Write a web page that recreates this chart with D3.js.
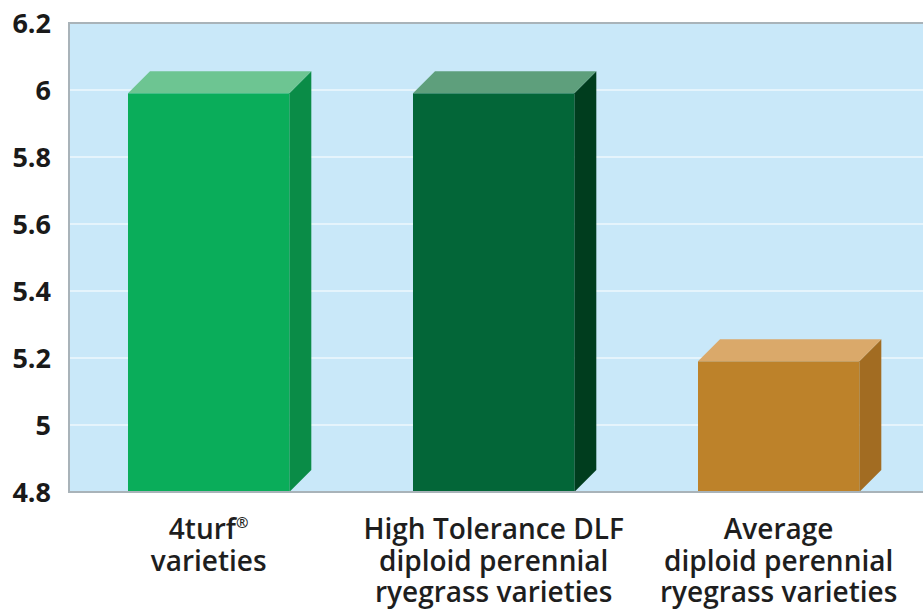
<!DOCTYPE html>
<html>
<head>
<meta charset="utf-8">
<script src="https://cdn.jsdelivr.net/npm/d3@7"></script>
<style>
  html, body { margin: 0; padding: 0; background: #ffffff; }
  svg { display: block; }
</style>
</head>
<body>
<svg id="chart" width="923" height="614"></svg>
<script>
// ---- data ----
const categories = ["4turf", "High Tolerance DLF", "Average"];
const categoryLines = [
  ["4turf®", "varieties"],
  ["High Tolerance DLF", "diploid perennial", "ryegrass varieties"],
  ["Average", "diploid perennial", "ryegrass varieties"]
];
const values = [5.99, 5.99, 5.19];
const yTicks = [4.8, 5, 5.2, 5.4, 5.6, 5.8, 6, 6.2];
const frontColors = ["#0aad5a", "#036638", "#bd822a"];
const topColors = ["#6dc592", "#5e9f7c", "#daa96a"];
const sideColors = ["#0a8c47", "#003d1e", "#a26c22"];

// ---- layout ----
const W = 923, H = 614;
const plot = { left: 69, right: 924, top: 23, bottom: 492 };
const depth = 22;

const svg = d3.select("#chart");

const x = d3.scaleBand().domain(categories).range([plot.left, plot.right]).padding(0);
const y = d3.scaleLinear().domain([4.8, 6.2]).range([plot.bottom, plot.top]);

// background
svg.append("rect")
  .attr("x", plot.left).attr("y", plot.top)
  .attr("width", plot.right - plot.left).attr("height", plot.bottom - plot.top)
  .attr("fill", "#c9e8f9");

// gridlines
svg.append("g").selectAll("line")
  .data(yTicks.filter(t => t > 4.8 && t < 6.2))
  .join("line")
  .attr("x1", plot.left).attr("x2", plot.right)
  .attr("y1", d => y(d)).attr("y2", d => y(d))
  .attr("stroke", "#eef8fd").attr("stroke-width", 1.5);

// y-axis labels
const yAxis = d3.axisLeft(y).tickValues(yTicks).tickSize(0).tickPadding(18)
  .tickFormat(d => d3.format("~g")(d));
const gy = svg.append("g").attr("transform", `translate(${plot.left},0)`).call(yAxis);
gy.select(".domain").remove();
gy.selectAll("text")
  .attr("font-family", "'Open Sans', sans-serif")
  .attr("font-weight", 700)
  .attr("font-size", 27)
  .attr("fill", "#1a1a1a")
  .attr("dy", "0.36em");

// bars
const bw = x.bandwidth();
const frontOff = 0.207 * bw, frontW = 0.566 * bw;
const bars = svg.append("g");
categories.forEach((c, i) => {
  const x0 = x(c) + frontOff, x1 = x0 + frontW;
  const yt = y(values[i]), yb = y(4.8);
  // side face, clipped at the baseline
  bars.append("path")
    .attr("d", `M${x1},${yt} L${x1 + depth},${yt - depth} L${x1 + depth},${yb - depth} L${x1},${yb} Z`)
    .attr("fill", sideColors[i]);
  // top face
  bars.append("path")
    .attr("d", `M${x0},${yt} L${x0 + depth},${yt - depth} L${x1 + depth},${yt - depth} L${x1},${yt} Z`)
    .attr("fill", topColors[i]);
  // front face
  bars.append("rect")
    .attr("x", x0).attr("y", yt).attr("width", frontW).attr("height", yb - yt)
    .attr("fill", frontColors[i]);
});

// plot border (top, left, bottom)
svg.append("path")
  .attr("d", `M${plot.right},${plot.top} L${plot.left},${plot.top} L${plot.left},${plot.bottom} L${plot.right},${plot.bottom}`)
  .attr("fill", "none").attr("stroke", "#a9b3b9").attr("stroke-width", 2);

// category labels: one text element per category, lines as tspans
const labels = svg.append("g")
  .attr("font-family", "'Open Sans', sans-serif")
  .attr("font-weight", 600)
  .attr("font-size", 28)
  .attr("fill", "#1e1e1e")
  .attr("text-anchor", "middle");
categories.forEach((c, i) => {
  const cx = x(c) + frontOff + frontW / 2;
  const t = labels.append("text").attr("x", cx).attr("y", 539);
  categoryLines[i].forEach((line, j) => {
    const yLine = 539 + j * 31.5;
    if (line.endsWith("®")) {
      t.append("tspan").attr("x", cx).attr("y", yLine).text(line.slice(0, -1));
      t.append("tspan").attr("font-size", 15).attr("dy", -11).text("®");
    } else {
      t.append("tspan").attr("x", cx).attr("y", yLine).text(line);
    }
  });
});
</script>
</body>
</html>
